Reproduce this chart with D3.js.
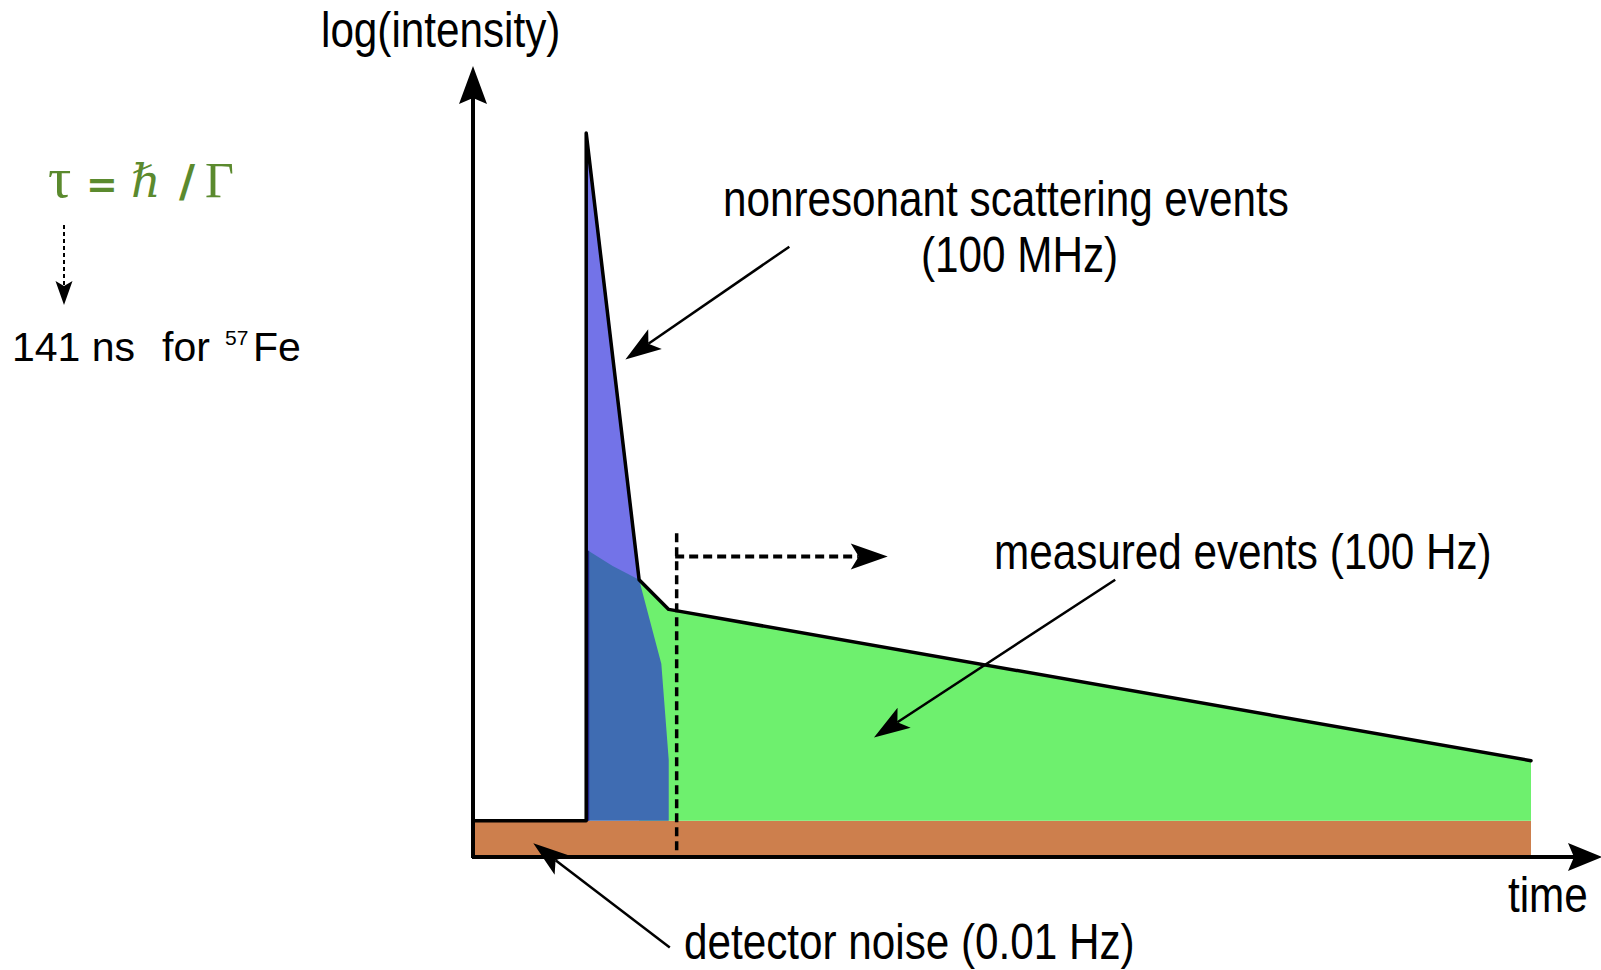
<!DOCTYPE html>
<html>
<head>
<meta charset="utf-8">
<script src="https://cdn.jsdelivr.net/npm/d3@7"></script>
<style>
  html, body { margin: 0; padding: 0; background: #fff; }
  svg { display: block; }
</style>
</head>
<body>
<svg id="chart" width="1601" height="970"></svg>
<script>
// ---------- data (arbitrary time units 0..100, log-intensity units 0..100) ----------
const noiseLevel = 5;                       // detector noise plateau
const timeRange = [0, 100];                 // start / end of recorded signal
const spikeTime = 10.7;                     // prompt pulse
const nonresonantT = [10.7, 15.7];
const nonresonantI = [100, 38.3];
const measuredT = [15.7, 18.5, 100];
const measuredI = [38.3, 34.2, 13.3];
const overlapT = [10.9, 13.2, 15.7, 17.8, 18.5, 18.5];
const overlapI = [42.3, 40.2, 38.3, 26.7, 13.4, 5];
const gateTime = 19.25;
const gateI = [0.3, 44.7];
const gateArrowI = 41.5;
const gateArrowEndT = 39.2;
const labels = {
  yAxis: "log(intensity)",
  xAxis: "time",
  nonres1: "nonresonant scattering events",
  nonres2: "(100 MHz)",
  measured: "measured events (100 Hz)",
  noise: "detector noise (0.01 Hz)"
};
// annotation arrows [fromT, fromI, tipT, tipI]
const nonresArrow = [29.9, 84.3, 14.4, 68.7];
const measuredArrow = [60.7, 38.3, 37.9, 16.5];
const noiseArrow = [18.6, -12.5, 5.7, 1.9];

// ---------- scales ----------
const x = d3.scaleLinear().domain([0, 100]).range([473, 1531]);
const y = d3.scaleLinear().domain([0, 100]).range([857, 133]);

const svg = d3.select("#chart");
const line = d3.line().x(d => x(d[0])).y(d => y(d[1]));
const zip = (a, b) => a.map((v, i) => [v, b[i]]);

function arrowHead(g, tipX, tipY, fromX, fromY, len, hw, notch) {
  const dx = tipX - fromX, dy = tipY - fromY, L = Math.hypot(dx, dy);
  const ux = dx / L, uy = dy / L, px = -uy, py = ux;
  const bx = tipX - ux * len, by = tipY - uy * len;
  const nx = tipX - ux * (len - notch), ny = tipY - uy * (len - notch);
  const p = d3.path();
  p.moveTo(tipX, tipY);
  p.lineTo(bx + px * hw, by + py * hw);
  p.lineTo(nx, ny);
  p.lineTo(bx - px * hw, by - py * hw);
  p.closePath();
  g.append("path").attr("d", p.toString()).attr("fill", "#000");
  return [nx, ny];
}

// ---------- areas ----------
svg.append("rect")
  .attr("x", x(timeRange[0])).attr("y", y(noiseLevel))
  .attr("width", x(timeRange[1]) - x(timeRange[0]))
  .attr("height", y(0) - y(noiseLevel))
  .attr("fill", "#cd7f4d");

const greenPts = zip(measuredT, measuredI)
  .concat([[timeRange[1], noiseLevel], [nonresonantT[1], noiseLevel]]);
svg.append("path").attr("d", line(greenPts) + "Z").attr("fill", "#6ef06e");

const spikePts = [[spikeTime, nonresonantI[0]], [nonresonantT[1], nonresonantI[1]],
  [nonresonantT[1], 35], [spikeTime, 35]];
svg.append("path").attr("d", line(spikePts) + "Z")
  .attr("fill", "#7373e8").attr("stroke", "#22228a").attr("stroke-width", 2);

const overlapPts = [[spikeTime, noiseLevel], [spikeTime, overlapI[0]]].concat(zip(overlapT, overlapI));
svg.append("path").attr("d", line(overlapPts) + "Z").attr("fill", "#3f6cb2");
svg.append("line")
  .attr("x1", x(spikeTime) + 2).attr("x2", x(spikeTime) + 2)
  .attr("y1", y(overlapI[0])).attr("y2", y(noiseLevel))
  .attr("stroke", "#22228a").attr("stroke-width", 2);

const outline = [[timeRange[0], noiseLevel], [spikeTime, noiseLevel], [spikeTime, nonresonantI[0]]]
  .concat(zip(nonresonantT.slice(1), nonresonantI.slice(1)))
  .concat(zip(measuredT.slice(1), measuredI.slice(1)));
svg.append("path").attr("d", line(outline))
  .attr("fill", "none").attr("stroke", "#000").attr("stroke-width", 3.5)
  .attr("stroke-linejoin", "round").attr("stroke-linecap", "round");

// ---------- gate (dashed) ----------
svg.append("line")
  .attr("x1", x(gateTime)).attr("x2", x(gateTime))
  .attr("y1", y(gateI[1])).attr("y2", y(gateI[0]))
  .attr("stroke", "#000").attr("stroke-width", 3.5).attr("stroke-dasharray", "9,5");
const gateHead = arrowHead(svg, x(gateArrowEndT), y(gateArrowI), x(gateTime), y(gateArrowI), 37, 13, 8);
svg.append("line")
  .attr("x1", x(gateTime) - 1.5).attr("x2", gateHead[0])
  .attr("y1", y(gateArrowI)).attr("y2", y(gateArrowI))
  .attr("stroke", "#000").attr("stroke-width", 4).attr("stroke-dasharray", "9,5");

// ---------- axes ----------
const x0 = x(0), yBase = y(0);
svg.append("line").attr("x1", x0).attr("x2", x0).attr("y1", yBase + 1).attr("y2", 90)
  .attr("stroke", "#000").attr("stroke-width", 4);
arrowHead(svg, x0, 66, x0, yBase, 38, 14, 6);
svg.append("line").attr("x1", x0 - 1).attr("x2", 1575).attr("y1", yBase).attr("y2", yBase)
  .attr("stroke", "#000").attr("stroke-width", 4);
arrowHead(svg, 1602, yBase, x0, yBase, 34, 14, 6);

// ---------- annotation arrows ----------
function annot(a) {
  const fx = x(a[0]), fy = y(a[1]), tx = x(a[2]), ty = y(a[3]);
  const n = arrowHead(svg, tx, ty, fx, fy, 36, 12, 8);
  svg.append("line").attr("x1", fx).attr("y1", fy).attr("x2", n[0]).attr("y2", n[1])
    .attr("stroke", "#000").attr("stroke-width", 2.5);
}
annot(nonresArrow);
annot(measuredArrow);
annot(noiseArrow);

// ---------- texts ----------
const SX = 0.845;
const sans = "'Liberation Sans', Arial, sans-serif";
function label(txt, px, py) {
  svg.append("text")
    .attr("transform", `translate(${px},${py}) scale(${SX},1)`)
    .attr("font-family", sans)
    .attr("font-size", 50).attr("fill", "#000")
    .text(txt);
}
label(labels.yAxis, 321, 47);
label(labels.nonres1, 723, 216);
label(labels.nonres2, 921, 272);
label(labels.measured, 994, 569);
label(labels.xAxis, 1508, 912);
label(labels.noise, 684, 959);

// formula tau = hbar / Gamma
const green = "#5b8a2e";
const serif = "'Liberation Serif', 'DejaVu Serif', serif";
const formula = [
  ["τ", 48, "normal", serif, 58, "normal"],
  ["=", 86, "normal", "'DejaVu Sans', sans-serif", 38, "bold"],
  ["ℏ", 131, "italic", serif, 46, "normal"],
  ["/", 179, "normal", "'DejaVu Sans', sans-serif", 44, "bold"],
  ["Γ", 205, "normal", serif, 50, "normal"]
];
formula.forEach(f => {
  svg.append("text").attr("x", f[1]).attr("y", 197)
    .attr("font-family", f[3])
    .attr("font-size", f[4]).attr("font-style", f[2]).attr("font-weight", f[5]).attr("fill", green)
    .text(f[0]);
});
// dotted arrow
const dh = arrowHead(svg, 64, 305, 64, 225, 24, 8.5, 5);
svg.append("line").attr("x1", 64).attr("x2", 64).attr("y1", 225).attr("y2", dh[1])
  .attr("stroke", "#000").attr("stroke-width", 2).attr("stroke-dasharray", "4,3");

// 141 ns for 57Fe
svg.append("text").attr("x", 12).attr("y", 361).attr("font-family", sans).attr("font-size", 41).text("141 ns");
svg.append("text").attr("x", 162).attr("y", 361).attr("font-family", sans).attr("font-size", 41).text("for");
svg.append("text").attr("x", 225).attr("y", 345).attr("font-family", sans).attr("font-size", 21).text("57");
svg.append("text").attr("x", 253).attr("y", 361).attr("font-family", sans).attr("font-size", 41).text("Fe");
</script>
</body>
</html>
